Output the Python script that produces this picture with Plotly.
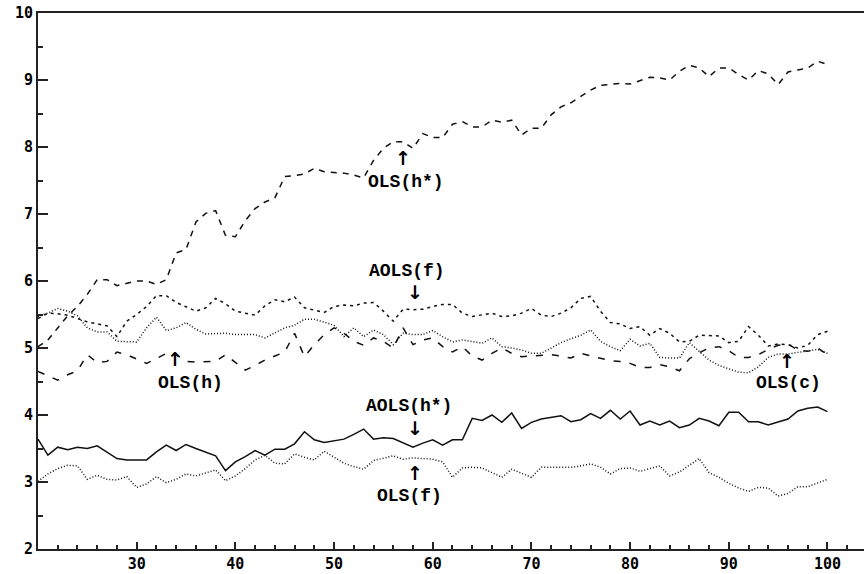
import plotly.graph_objects as go

x_vals = list(range(20, 101))

ols_hstar = [5.02, 5.12, 5.30, 5.48, 5.62, 5.80, 6.02, 6.02, 5.93, 5.96,
             6.00, 6.00, 5.95, 6.02, 6.42, 6.47, 6.88, 7.01, 7.05, 6.68,
             6.66, 6.90, 7.08, 7.18, 7.24, 7.56, 7.57, 7.60, 7.68, 7.63,
             7.62, 7.61, 7.58, 7.54, 7.80, 7.98, 8.08, 8.08, 7.98, 8.20,
             8.14, 8.14, 8.34, 8.38, 8.30, 8.30, 8.40, 8.37, 8.40, 8.18,
             8.28, 8.28, 8.48, 8.60, 8.66, 8.75, 8.85, 8.92, 8.94, 8.95,
             8.94, 8.99, 9.04, 9.03, 9.00, 9.13, 9.22, 9.18, 9.05, 9.18,
             9.18, 9.08, 9.00, 9.14, 9.09, 8.93, 9.12, 9.15, 9.18, 9.28,
             9.23]

aols_f = [5.44, 5.52, 5.51, 5.49, 5.44, 5.39, 5.36, 5.33, 5.17, 5.40,
          5.50, 5.62, 5.78, 5.78, 5.68, 5.61, 5.55, 5.60, 5.74, 5.66,
          5.55, 5.52, 5.49, 5.63, 5.72, 5.69, 5.76, 5.60, 5.57, 5.53,
          5.62, 5.64, 5.63, 5.67, 5.68, 5.55, 5.40, 5.58, 5.57, 5.58,
          5.62, 5.65, 5.65, 5.52, 5.47, 5.50, 5.52, 5.47, 5.48, 5.52,
          5.59, 5.49, 5.47, 5.52, 5.60, 5.74, 5.77, 5.55, 5.38, 5.36,
          5.29, 5.32, 5.19, 5.29, 5.22, 5.09, 5.10, 5.19, 5.19, 5.18,
          5.08, 5.10, 5.32, 5.19, 5.03, 5.06, 5.05, 5.00, 5.04, 5.20,
          5.25]

ols_c = [5.47, 5.52, 5.59, 5.55, 5.48, 5.30, 5.24, 5.24, 5.10, 5.09,
         5.09, 5.30, 5.46, 5.26, 5.30, 5.38, 5.28, 5.21, 5.21, 5.22,
         5.20, 5.20, 5.20, 5.15, 5.22, 5.30, 5.34, 5.43, 5.43, 5.38,
         5.34, 5.17, 5.30, 5.17, 5.27, 5.20, 5.05, 5.22, 5.20, 5.20,
         5.26, 5.17, 5.09, 5.12, 5.10, 5.07, 5.15, 5.02, 5.00, 4.97,
         4.92, 4.92, 5.00, 5.08, 5.14, 5.19, 5.27, 5.10, 5.02, 4.96,
         5.13, 5.03, 5.07, 4.86, 4.85, 4.85, 5.08, 4.95, 4.82, 4.74,
         4.69, 4.64, 4.63, 4.72, 4.86, 4.91, 4.91, 4.93, 4.96, 4.98,
         4.92]

ols_h = [4.65, 4.58, 4.52, 4.60, 4.66, 4.90, 4.78, 4.80, 4.94, 4.90,
         4.84, 4.77, 4.84, 4.92, 4.90, 4.80, 4.79, 4.79, 4.80, 4.90,
         4.78, 4.67, 4.74, 4.82, 4.88, 4.94, 5.22, 4.87, 5.05, 5.20,
         5.30, 5.22, 5.10, 5.04, 5.15, 5.10, 5.00, 5.30, 5.05, 5.12,
         5.15, 5.02, 4.94, 5.02, 4.88, 4.82, 4.92, 5.00, 4.92, 4.87,
         4.88, 4.89, 4.90, 4.88, 4.85, 4.92, 4.88, 4.84, 4.81, 4.80,
         4.77, 4.71, 4.71, 4.75, 4.72, 4.66, 4.84, 4.93, 5.00, 5.02,
         4.96, 4.86, 4.86, 4.90, 4.98, 5.04, 5.06, 4.97, 4.95, 5.00,
         4.90]

aols_hstar = [3.64, 3.40, 3.52, 3.48, 3.52, 3.50, 3.54, 3.45, 3.35, 3.33,
              3.33, 3.33, 3.45, 3.55, 3.47, 3.56, 3.50, 3.44, 3.39, 3.17,
              3.30, 3.38, 3.47, 3.40, 3.49, 3.49, 3.57, 3.75, 3.63, 3.59,
              3.61, 3.64, 3.71, 3.79, 3.64, 3.66, 3.65, 3.58, 3.52, 3.58,
              3.63, 3.55, 3.63, 3.63, 3.95, 3.92, 4.00, 3.89, 4.03, 3.80,
              3.89, 3.94, 3.96, 3.99, 3.90, 3.93, 4.02, 3.95, 4.07, 3.94,
              4.06, 3.85, 3.91, 3.85, 3.91, 3.81, 3.85, 3.95, 3.91, 3.84,
              4.04, 4.04, 3.90, 3.90, 3.85, 3.90, 3.94, 4.06, 4.10, 4.12,
              4.05]

ols_f = [3.01, 3.12, 3.20, 3.25, 3.24, 3.04, 3.10, 3.04, 3.03, 3.08,
         2.92, 2.97, 3.08, 2.99, 3.04, 3.12, 3.09, 3.13, 3.18, 3.02,
         3.09, 3.20, 3.33, 3.40, 3.28, 3.27, 3.42, 3.37, 3.33, 3.46,
         3.37, 3.28, 3.23, 3.19, 3.32, 3.36, 3.39, 3.34, 3.36, 3.35,
         3.34, 3.30, 3.07, 3.21, 3.22, 3.21, 3.14, 3.07, 3.19, 3.13,
         3.07, 3.22, 3.22, 3.22, 3.22, 3.24, 3.27, 3.22, 3.12, 3.20,
         3.21, 3.16, 3.20, 3.24, 3.09, 3.15, 3.25, 3.35, 3.14, 3.07,
         2.98, 2.91, 2.86, 2.92, 2.91, 2.79, 2.83, 2.93, 2.93, 2.98,
         3.04]

x_ticks = [30, 40, 50, 60, 70, 80, 90, 100]
y_ticks = [2, 3, 4, 5, 6, 7, 8, 9, 10]

# label text, label position (x, y), arrow glyph, arrow position (x, y)
labels = [
    ("OLS(h*)", 57.3, 7.48, "↑", 57.0, 7.84),
    ("AOLS(f)", 57.4, 6.15, "↓", 58.2, 5.83),
    ("OLS(h)", 35.5, 4.48, "↑", 33.9, 4.84),
    ("OLS(c)", 96.0, 4.48, "↑", 95.9, 4.80),
    ("AOLS(h*)", 57.6, 4.13, "↓", 58.2, 3.81),
    ("OLS(f)", 57.6, 2.79, "↑", 58.2, 3.13),
]

INK = "#111111"
series = [
    ("OLS(h*)", ols_hstar, "6px,6px"),
    ("AOLS(f)", aols_f, "3px,4px"),
    ("OLS(c)", ols_c, "1px,2px"),
    ("OLS(h)", ols_h, "7px,9px"),
    ("AOLS(h*)", aols_hstar, "solid"),
    ("OLS(f)", ols_f, "1px,2px"),
]

fig = go.Figure()
for name, ys, dash in series:
    fig.add_trace(go.Scatter(x=x_vals, y=ys, mode="lines", name=name,
                             line=dict(color=INK, width=1.5, dash=dash)))

for txt, tx, ty, arr, axx, ayy in labels:
    fig.add_annotation(x=tx, y=ty, text=f"<b>{txt}</b>", showarrow=False,
                       font=dict(family="Liberation Mono", size=18, color="#000"))
    fig.add_annotation(x=axx, y=ayy, text=f"<b>{arr}</b>", showarrow=False,
                       font=dict(family="DejaVu Sans", size=19, color="#000"))

fig.update_layout(
    width=864, height=574,
    margin=dict(l=38, r=0, t=13, b=25),
    paper_bgcolor="white", plot_bgcolor="white",
    showlegend=False,
    font=dict(family="DejaVu Sans Mono", size=15, color="#000"),
)
fig.update_xaxes(
    range=[20, 103.7], tickmode="array", tickvals=x_ticks,
    ticktext=[f"<b>{v}</b>" for v in x_ticks],
    showgrid=False, zeroline=False,
    showline=True, linecolor="#222", linewidth=2, mirror=True,
    ticks="inside", ticklen=7, tickwidth=2, tickcolor="#222",
    minor=dict(tickvals=[v for v in range(22, 104, 2) if v % 10 != 0],
               ticks="inside", ticklen=4, tickwidth=1.5, tickcolor="#222"),
)
fig.update_yaxes(
    range=[2, 10], tickmode="array", tickvals=y_ticks,
    ticktext=[f"<b>{v}</b>" for v in y_ticks],
    showgrid=False, zeroline=False,
    showline=True, linecolor="#222", linewidth=2, mirror=False,
    ticks="inside", ticklen=10, tickwidth=2, tickcolor="#222",
    minor=dict(tickvals=[v + 0.5 for v in range(2, 10)],
               ticks="inside", ticklen=5, tickwidth=1.5, tickcolor="#222"),
)

fig.write_html("out.html")
